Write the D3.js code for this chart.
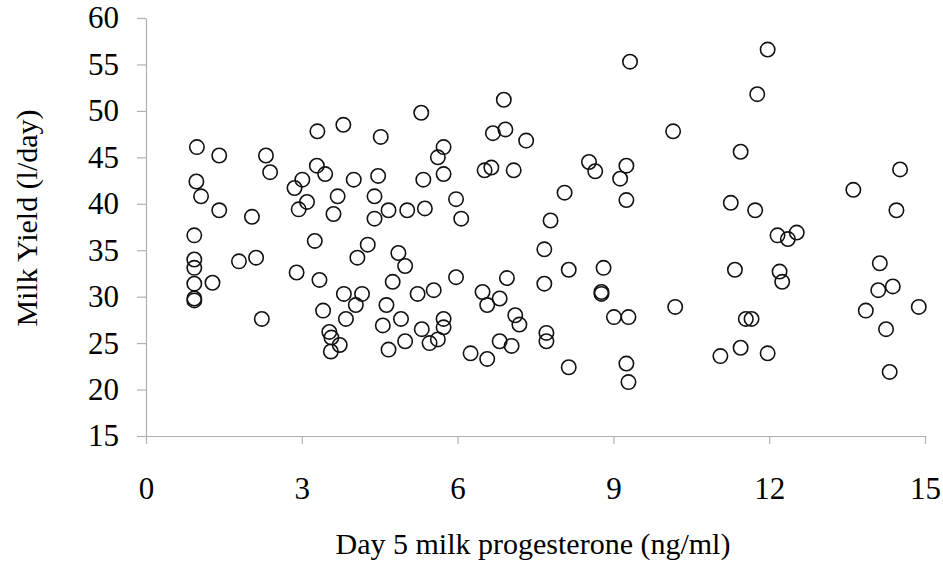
<!DOCTYPE html>
<html><head><meta charset="utf-8">
<script src="https://cdn.jsdelivr.net/npm/d3@7"></script>
<style>body{margin:0;background:#fff}svg text{font-family:"Liberation Serif","Times New Roman",serif}</style>
</head><body><svg id="c" width="943" height="562"></svg>
<script>
const progesterone = [0.98,1.41,2.31,2.39,0.97,1.06,1.41,2.04,3.30,3.80,4.52,5.30,5.73,5.62,5.73,3.29,3.45,3.01,2.86,4.00,4.47,5.34,3.10,2.94,3.69,4.40,3.61,4.40,4.67,5.03,5.37,5.97,6.07,0.93,3.25,4.27,4.07,4.86,4.99,0.93,0.93,1.79,2.12,2.90,3.34,0.93,1.28,4.75,5.97,0.93,0.93,3.81,4.16,4.04,3.41,4.63,5.23,5.54,3.85,2.23,4.91,5.73,4.56,5.31,5.73,3.53,3.57,3.73,3.56,4.99,5.46,5.62,4.67,
11.97,9.32,11.77,6.89,6.68,6.92,7.32,10.15,11.45,8.53,8.65,9.25,9.13,6.52,6.65,7.08,8.06,9.25,11.26,11.73,7.79,7.67,6.95,8.14,8.81,7.67,6.48,6.81,6.57,8.77,8.77,9.01,9.29,10.19,11.34,11.55,11.66,7.11,7.19,7.71,7.71,6.81,7.04,6.25,6.57,8.14,9.25,9.29,11.06,11.45,11.97,13.62,14.52,14.45,12.16,12.53,12.36,12.20,12.25,14.13,14.10,14.38,13.86,14.88,14.25,14.32];
const milkYield = [46.1,45.2,45.2,43.4,42.4,40.8,39.3,38.6,47.8,48.5,47.2,49.8,46.1,45.0,43.2,44.1,43.2,42.6,41.7,42.6,43.0,42.6,40.2,39.4,40.8,40.8,38.9,38.4,39.3,39.3,39.5,40.5,38.4,36.6,36.0,35.6,34.2,34.7,33.3,34.0,33.1,33.8,34.2,32.6,31.8,31.4,31.5,31.6,32.1,29.8,29.6,30.3,30.3,29.1,28.5,29.1,30.3,30.7,27.6,27.6,27.6,27.6,26.9,26.5,26.7,26.2,25.6,24.8,24.1,25.2,25.0,25.4,24.3,
56.6,55.3,51.8,51.2,47.6,48.0,46.8,47.8,45.6,44.5,43.5,44.1,42.7,43.6,43.9,43.6,41.2,40.4,40.1,39.3,38.2,35.1,32.0,32.9,33.1,31.4,30.5,29.8,29.1,30.5,30.3,27.8,27.8,28.9,32.9,27.6,27.6,28.0,27.0,26.1,25.2,25.2,24.7,23.9,23.3,22.4,22.8,20.8,23.6,24.5,23.9,41.5,43.7,39.3,36.6,36.9,36.2,32.7,31.6,33.6,30.7,31.1,28.5,28.9,26.5,21.9];
const xTicks = [0,3,6,9,12,15];
const yTicks = [15,20,25,30,35,40,45,50,55,60];
const xTitle = "Day 5 milk progesterone (ng/ml)";
const yTitle = "Milk Yield (l/day)";

const svg = d3.select("#c");
const x = d3.scaleLinear().domain([0,15]).range([146,925]);
const y = d3.scaleLinear().domain([15,60]).range([436,18]);
const axisColor = "#b0b0b0";

const gx = svg.append("g").attr("transform","translate(0,436)")
  .call(d3.axisBottom(x).tickValues(xTicks).tickSize(8).tickPadding(33).tickSizeOuter(0));
const gy = svg.append("g").attr("transform","translate(146,0)")
  .call(d3.axisLeft(y).tickValues(yTicks).tickSize(9).tickPadding(18).tickSizeOuter(0));
[gx,gy].forEach(g=>{
  g.attr("font-size",null).attr("font-family",null);
  g.select(".domain").attr("stroke",axisColor).attr("stroke-width",1.2);
  g.selectAll(".tick line").attr("stroke",axisColor).attr("stroke-width",1.2);
  g.selectAll(".tick text").attr("fill","#000").style("font-size","31px");
});

svg.append("g").selectAll("circle").data(progesterone.map((p,i)=>[p,milkYield[i]]))
  .join("circle").attr("cx",d=>x(d[0])).attr("cy",d=>y(d[1])).attr("r",7.2)
  .attr("fill","none").attr("stroke","#111").attr("stroke-width",1.6);

svg.append("text").attr("x",533).attr("y",554).attr("text-anchor","middle")
  .style("font-size","30px").text(xTitle);
svg.append("text").attr("transform","translate(37,218) rotate(-90)").attr("text-anchor","middle")
  .style("font-size","30px").text(yTitle);
</script></body></html>
